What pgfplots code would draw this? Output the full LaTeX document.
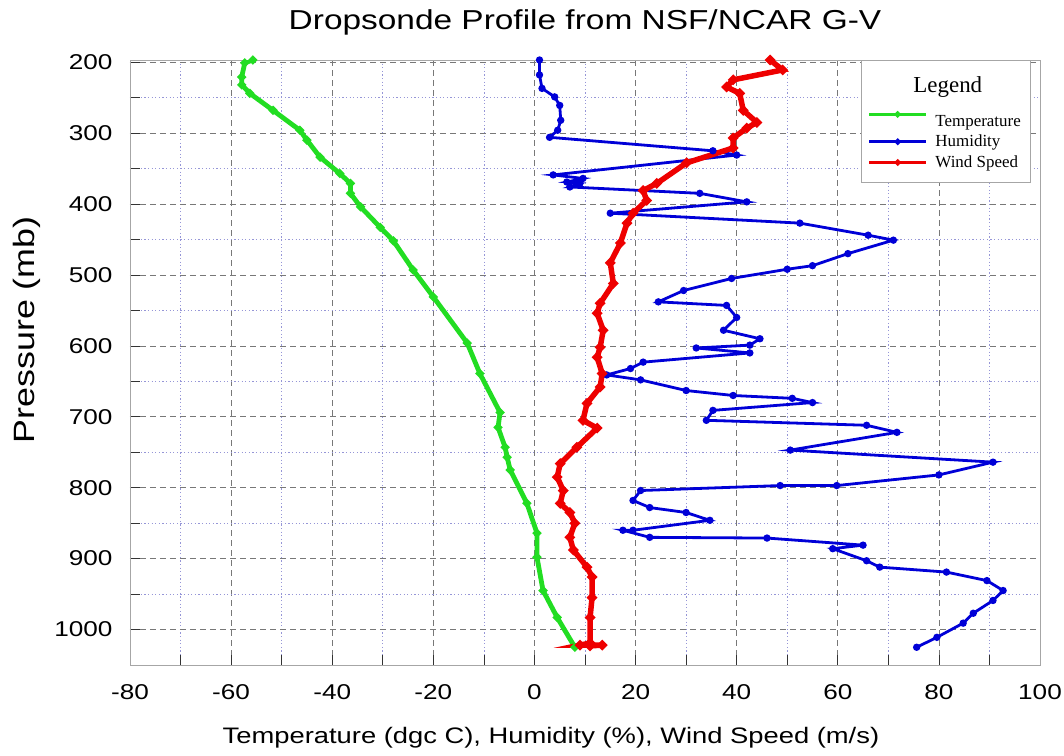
\documentclass[border=0pt]{standalone}
\usepackage{fontspec}
\setmainfont{Liberation Sans}[FakeStretch=1.22]
\newfontfamily\legendfont{Liberation Serif}
\usepackage{pgfplots}
\pgfplotsset{compat=1.18}
\usepackage{pgfplotstable}
\definecolor{tgreen}{RGB}{34,221,34}
\definecolor{hblue}{RGB}{0,0,215}
\definecolor{wred}{RGB}{238,0,0}
\definecolor{mgrid}{RGB}{120,120,120}
\definecolor{ngrid}{RGB}{150,150,215}

\pgfplotstableread{
x p
-55.7 197
-57.3 201
-57.9 221
-57.9 232
-56.3 244
-51.7 268
-46.4 296
-45 310
-42.4 334
-38.5 357
-36.4 371
-36.4 385
-34.4 404
-30.5 433
-27.9 452
-24 493
-20 531
-13.3 596
-10.8 639
-6.8 694
-7.2 715
-5.8 743
-5.4 757
-4.8 775
-1.5 822
0.5 864
0.5 898
1.7 945
4.5 983
8 1025
}\temptable

\pgfplotstableread{
x p
1 197
1 218
1.5 237
4 249
5 261
5.2 282
4.6 296
3 306
35.3 325
40 331
3.7 359
9.6 364
6.4 369
9 371
7 376
32.7 385
42 397
15 413
52.5 427
66 444
71 451
62 470
55 487
50 492
39 505
29.5 522
24.5 538
38 543
40 560
37.4 578
44.6 590
42.6 599
32 603
42.6 610
21.5 623
19 632
14.3 641
21 648
30 663
39.3 670
51 674
55 680
35.3 691
34 705
65.7 712
71.7 722
50.6 747
90.7 764
80 782
59.8 797
48.6 797
21 804
19.5 818
22.8 828
30 835
34.7 846
19.5 860
17.5 860
22.8 870
46 871
65 881
59 886
65.7 903
68.3 912
81.5 919
89.5 931
92.7 945
90.7 959
86.8 977
84.8 991
79.6 1011
75.6 1025
}\humtable

\pgfplotstableread{
x p
46.6 197
49.1 211
39.3 225
38 235
40.6 244
41.3 268
44 285
42 293
39.3 307
39.3 321
30.1 342
24.2 371
21.5 381
22.2 395
19.5 413
18.3 427
17 455
15 483
15.6 512
13 540
12.4 554
13.6 578
13 602
12.4 616
13.4 639
13 658
10.4 681
9.6 705
12.4 716
8.4 743
5.1 766
4.5 785
5.7 804
5.1 822
7 835
8 850
7 870
7.7 888
10.4 912
11.4 926
11.4 955
11 983
11 1019
9 1022
13.4 1022
11 1023
}\windtable

\begin{document}
\begin{tikzpicture}
\begin{axis}[
  scale only axis, width=910bp, height=605bp,
  xmin=-80, xmax=100, ymin=197, ymax=1050, y dir=reverse,
  xtick={-80,-60,...,100}, ytick={200,300,...,1000},
  minor xtick={-70,-50,...,90}, minor ytick={250,350,...,950},
  grid=both,
  major grid style={mgrid, dash pattern=on 6bp off 4bp, line width=0.6bp},
  minor grid style={ngrid, dash pattern=on 1.2bp off 2.4bp, line width=0.7bp},
  axis line style={gray!70, line width=0.8bp},
  tick style={gray!40!black, line width=0.6bp},
  tick align=inside, major tick length=10bp, minor tick length=10bp,
  xtick pos=bottom, ytick pos=left,
  /pgf/number format/assume math mode=true,
  /pgf/number format/1000 sep={},
  ticklabel style={font=\fontsize{21.5}{21.5}\selectfont},
  xticklabel style={yshift=-16bp},
  yticklabel style={xshift=-14bp},
  title={Dropsonde Profile from NSF/NCAR G-V},
  title style={font=\fontsize{27.5}{27.5}\selectfont, at={(axis description cs:0.5,1.053)}, anchor=center},
  xlabel={Temperature (dgc C), Humidity (\%), Wind Speed (m/s)},
  ylabel={Pressure (mb)},
  xlabel style={font=\fontsize{22.5}{22.5}\selectfont, at={(axis description cs:0.4626,-0.1207)}, anchor=center},
  ylabel style={font=\fontsize{29.5}{29.5}\selectfont, at={(axis description cs:-0.113,0.554)}, anchor=center},
  legend style={at={(0.989,1)}, anchor=north east, draw=gray!70,
    font=\fontsize{17}{19}\selectfont\legendfont, inner xsep=7bp, inner ysep=11.5bp,
    row sep=3.5bp},
  legend cell align=left,
  legend image code/.code={\draw[mark repeat=2,mark phase=2,#1,line width=2.6bp,mark size=1.8bp] plot coordinates {(0bp,0bp) (28.5bp,0bp) (57bp,0bp)};},
]
\addlegendimage{empty legend}
\addlegendentry{\hspace*{-16bp}\raisebox{0pt}[18.5bp][0bp]{\fontsize{23}{26}\selectfont Legend}}
\addplot[tgreen, line width=4.8bp, mark=*, mark size=1.4bp] table[x=x,y=p] {\temptable};
\addlegendentry{\hspace*{6bp}\rule{0pt}{25bp}Temperature}
\addplot[hblue, line width=2.8bp, mark=*, mark size=2.2bp] table[x=x,y=p] {\humtable};
\addlegendentry{\hspace*{6bp}Humidity}
\addplot[wred, line width=5.5bp, mark=*, mark size=1.6bp] table[x=x,y=p] {\windtable};
\addlegendentry{\hspace*{6bp}Wind Speed}
\end{axis}
\pgfresetboundingbox
\path (current axis.south west) ++(-130bp,-91bp) rectangle ++(1064bp,756bp);
\end{tikzpicture}
\end{document}
